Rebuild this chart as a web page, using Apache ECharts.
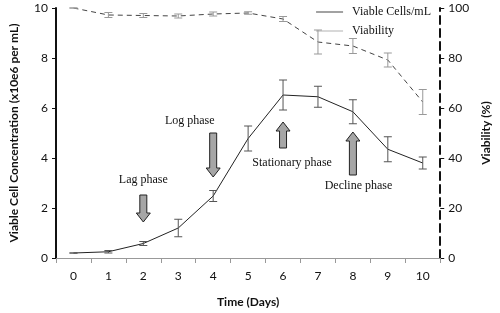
<!DOCTYPE html>
<html>
<head>
<meta charset="utf-8">
<script src="https://cdn.jsdelivr.net/npm/echarts@6/dist/echarts.min.js"></script>
<style>
  html, body { margin: 0; padding: 0; background: #fff; }
  #chart { width: 500px; height: 313px; }
</style>
</head>
<body>
<div id="chart"></div>
<script>
// data
const days = ['0', '1', '2', '3', '4', '5', '6', '7', '8', '9', '10']
const viableCells = [0.2, 0.25, 0.58, 1.2, 2.48, 4.78, 6.52, 6.45, 5.85, 4.35, 3.8]
const viableErr = [0, 0.05, 0.08, 0.35, 0.22, 0.5, 0.6, 0.42, 0.48, 0.5, 0.24]
const viability = [100, 97.2, 97, 96.8, 97.6, 98, 95.6, 86.4, 84.8, 79.2, 62.4]
const viabilityErr = [0, 1, 0.8, 0.8, 0.8, 0.5, 1, 4.8, 3, 2.8, 5]

// phase annotations (day, arrow start, arrow tip, label day, label value)
const phaseNames = ['Lag phase', 'Log phase', 'Stationary phase', 'Decline phase']
const phaseDay = [2, 4, 6, 8]
const arrowFrom = [2.52, 5.0, 4.4, 3.32]
const arrowTo = [1.44, 3.24, 5.44, 5.04]
const labelDay = [2, 3.33, 6.26, 8.16]
const labelValue = [3.12, 5.48, 3.8, 2.88]

const sans = 'Lato'
const serif = 'Liberation Serif'

function errorBars(values, errs) {
  return values.map((v, i) => [i, v - errs[i], v + errs[i]])
}

function errorRenderer(color) {
  return function (params, api) {
    const lo = api.coord([api.value(0), api.value(1)])
    const hi = api.coord([api.value(0), api.value(2)])
    const w = 4
    const style = { stroke: color, lineWidth: 1 }
    return {
      type: 'group',
      children: [
        { type: 'line', shape: { x1: lo[0], y1: lo[1], x2: hi[0], y2: hi[1] }, style },
        { type: 'line', shape: { x1: lo[0] - w, y1: lo[1], x2: lo[0] + w, y2: lo[1] }, style },
        { type: 'line', shape: { x1: hi[0] - w, y1: hi[1], x2: hi[0] + w, y2: hi[1] }, style }
      ]
    }
  }
}

function renderArrow(params, api) {
  const i = params.dataIndex
  const base = api.coord([phaseDay[i], arrowFrom[i]])
  const tip = api.coord([phaseDay[i], arrowTo[i]])
  const dir = tip[1] > base[1] ? 1 : -1
  const x = base[0]
  const sw = 3.5
  const hw = 7
  const hh = 9
  const neck = tip[1] - dir * hh
  const band = api.size([1, 0])[0]
  const lp = api.coord([Math.floor(labelDay[i]), labelValue[i]])
  const lx = lp[0] + (labelDay[i] - Math.floor(labelDay[i])) * band
  return {
    type: 'group',
    children: [
      {
        type: 'polygon',
        shape: {
          points: [
            [x - sw, base[1]], [x + sw, base[1]], [x + sw, neck], [x + hw, neck],
            [x, tip[1]], [x - hw, neck], [x - sw, neck]
          ]
        },
        style: { fill: '#a6a6a6', stroke: '#222', lineWidth: 1 }
      },
      {
        type: 'text',
        x: lx,
        y: lp[1],
        style: {
          text: phaseNames[i],
          fill: '#111',
          font: '12px "' + serif + '"',
          align: 'center',
          verticalAlign: 'middle'
        }
      }
    ]
  }
}

const chart = echarts.init(document.getElementById('chart'))
chart.setOption({
  animation: false,
  grid: { left: 52, right: 54, top: 8, bottom: 55 },
  legend: {
    orient: 'vertical',
    right: 64,
    top: 1,
    icon: 'rect',
    itemWidth: 27,
    itemHeight: 1,
    itemGap: 7,
    textStyle: { fontFamily: serif, fontSize: 12, color: '#111', padding: [0, 0, 0, 4] },
    data: [
      { name: 'Viable Cells/mL', itemStyle: { color: '#444' } },
      { name: 'Viability', itemStyle: { color: '#b0b0b0' } }
    ]
  },
  xAxis: {
    type: 'category',
    data: days,
    boundaryGap: true,
    name: 'Time (Days)',
    nameLocation: 'middle',
    nameGap: 38,
    nameTextStyle: { fontFamily: sans, fontWeight: 'bold', fontSize: 12, color: '#111' },
    axisLine: { lineStyle: { color: '#999', width: 1 } },
    axisTick: { show: true, length: 5, lineStyle: { color: '#999' } },
    axisLabel: { fontFamily: sans, fontSize: 12, color: '#111', margin: 12 },
    splitLine: { show: false }
  },
  yAxis: [
    {
      type: 'value',
      min: 0,
      max: 10,
      interval: 2,
      name: 'Viable Cell Concentration (x10e6 per mL)',
      nameLocation: 'middle',
      nameGap: 36,
      nameTextStyle: { fontFamily: sans, fontWeight: 'bold', fontSize: 12, color: '#111' },
      axisLine: { show: true, lineStyle: { color: '#111', width: 2 } },
      axisTick: { show: true, length: 4, lineStyle: { color: '#111', width: 1 } },
      axisLabel: { fontFamily: sans, fontSize: 12, color: '#111', margin: 8 },
      splitLine: { show: false }
    },
    {
      type: 'value',
      min: 0,
      max: 100,
      interval: 20,
      name: 'Viability (%)',
      nameLocation: 'middle',
      nameGap: 38,
      nameRotate: 90,
      nameTextStyle: { fontFamily: sans, fontWeight: 'bold', fontSize: 12, color: '#111' },
      axisLine: { show: true, lineStyle: { color: '#111', width: 2, type: [8, 5] } },
      axisTick: { show: true, length: 4, lineStyle: { color: '#111', width: 1 } },
      axisLabel: { fontFamily: sans, fontSize: 12, color: '#111', margin: 8 },
      splitLine: { show: false }
    }
  ],
  series: [
    {
      name: 'Viable Cells/mL',
      type: 'line',
      data: viableCells,
      symbol: 'none',
      lineStyle: { color: '#222', width: 1 },
      itemStyle: { color: '#222' },
      z: 3
    },
    {
      name: 'Viability',
      type: 'line',
      yAxisIndex: 1,
      data: viability,
      symbol: 'none',
      lineStyle: { color: '#444', width: 1, type: [5, 4] },
      itemStyle: { color: '#aaa' },
      z: 3
    },
    {
      type: 'custom',
      data: errorBars(viableCells, viableErr),
      renderItem: errorRenderer('#555'),
      z: 4
    },
    {
      type: 'custom',
      yAxisIndex: 1,
      data: errorBars(viability, viabilityErr),
      renderItem: errorRenderer('#999'),
      z: 4
    },
    {
      type: 'custom',
      data: phaseDay.map((d, i) => [d, arrowFrom[i], arrowTo[i]]),
      renderItem: renderArrow,
      z: 5
    }
  ]
})
</script>
</body>
</html>
